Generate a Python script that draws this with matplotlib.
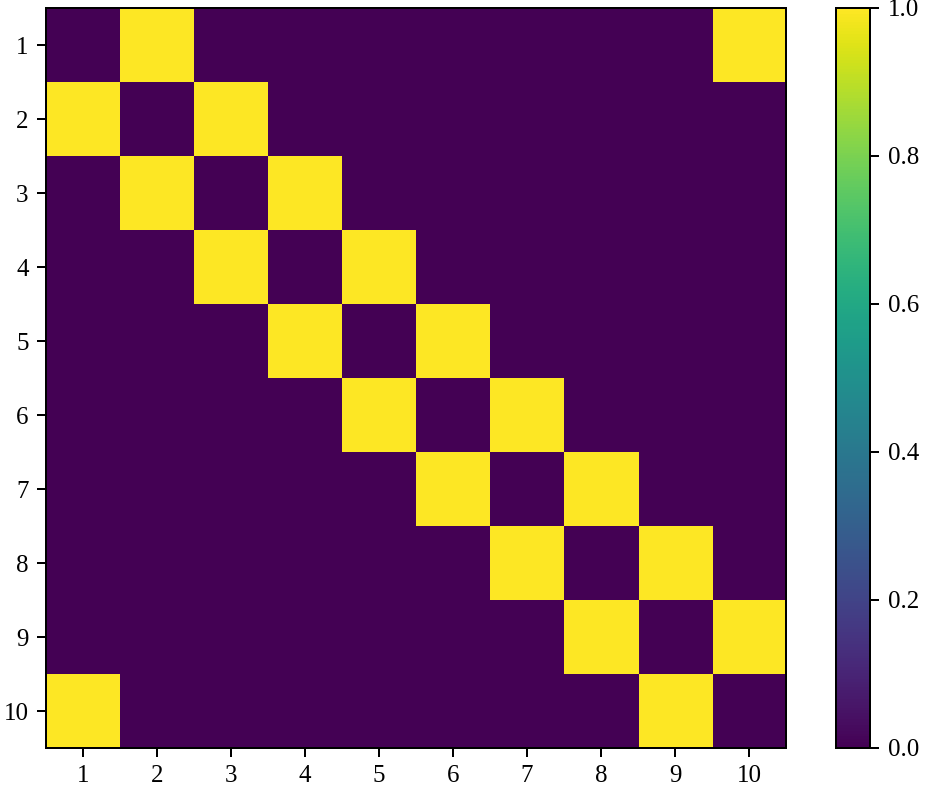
import matplotlib
matplotlib.use("Agg")
import matplotlib.pyplot as plt
import numpy as np

plt.rcParams['font.family'] = ['Liberation Serif', 'DejaVu Serif']
plt.rcParams['font.size'] = 10

labels = ["1", "2", "3", "4", "5", "6", "7", "8", "9", "10"]
matrix = [
    [0, 1, 0, 0, 0, 0, 0, 0, 0, 1],
    [1, 0, 1, 0, 0, 0, 0, 0, 0, 0],
    [0, 1, 0, 1, 0, 0, 0, 0, 0, 0],
    [0, 0, 1, 0, 1, 0, 0, 0, 0, 0],
    [0, 0, 0, 1, 0, 1, 0, 0, 0, 0],
    [0, 0, 0, 0, 1, 0, 1, 0, 0, 0],
    [0, 0, 0, 0, 0, 1, 0, 1, 0, 0],
    [0, 0, 0, 0, 0, 0, 1, 0, 1, 0],
    [0, 0, 0, 0, 0, 0, 0, 1, 0, 1],
    [1, 0, 0, 0, 0, 0, 0, 0, 1, 0],
]

DPI = 180
fig = plt.figure(figsize=(927/DPI, 794/DPI), dpi=DPI)
ax = fig.add_axes([46/927, 46/794, 740/927, 740/794])
cax = fig.add_axes([836/927, 46/794, 34/927, 740/794])

im = ax.imshow(np.array(matrix), cmap='viridis', vmin=0, vmax=1, aspect='auto')
ax.set_xticks(range(len(labels)))
ax.set_xticklabels(labels)
ax.set_yticks(range(len(labels)))
ax.set_yticklabels(labels)

cb = fig.colorbar(im, cax=cax)
cb.set_ticks([0.0, 0.2, 0.4, 0.6, 0.8, 1.0])

fig.savefig("out.png", dpi=DPI)
